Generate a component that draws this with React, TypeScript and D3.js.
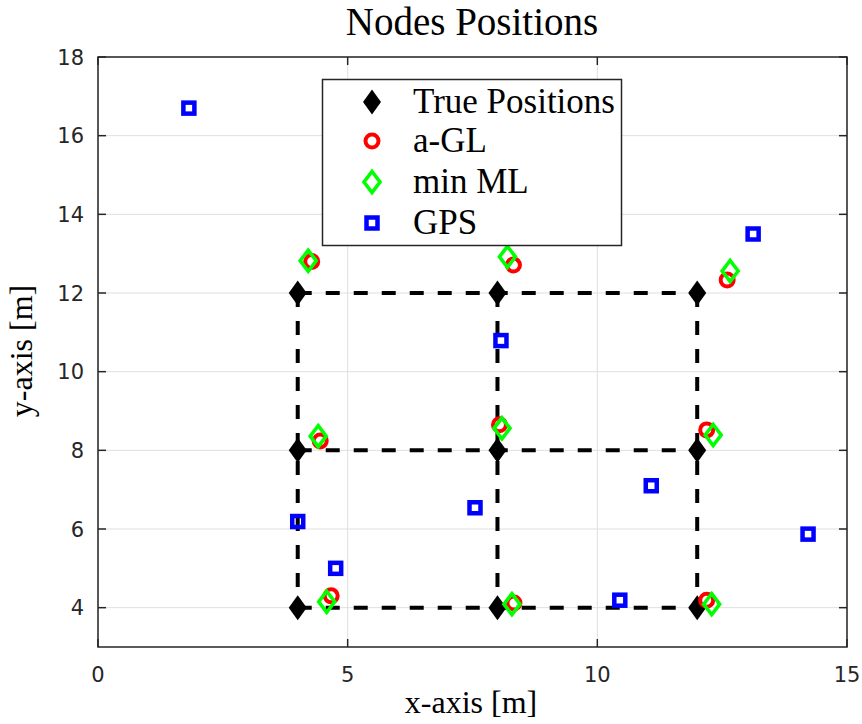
import React from "react";
import * as d3 from "d3";

// True node positions on a 3x3 grid
const trueX = [4, 8, 12, 4, 8, 12, 4, 8, 12];
const trueY = [4, 4, 4, 8, 8, 8, 12, 12, 12];

// a-GL estimates
const aglX = [4.67, 8.33, 12.19, 4.45, 8.04, 12.19, 4.28, 8.32, 12.6];
const aglY = [4.3, 4.12, 4.19, 8.24, 8.65, 8.52, 12.8, 12.71, 12.33];

// min ML estimates
const mlX = [4.58, 8.29, 12.29, 4.41, 8.09, 12.32, 4.21, 8.2, 12.66];
const mlY = [4.15, 4.09, 4.09, 8.36, 8.56, 8.39, 12.82, 12.92, 12.56];

// GPS fixes
const gpsX = [1.82, 13.12, 8.07, 4.0, 4.76, 7.55, 11.08, 10.45, 14.22];
const gpsY = [16.7, 13.5, 10.79, 6.19, 5.0, 6.54, 7.1, 4.19, 5.87];

const xTicks = [0, 5, 10, 15];
const yTicks = [4, 6, 8, 10, 12, 14, 16, 18];
const legendLabels = ["True Positions", "a-GL", "min ML", "GPS"];

const W = 862;
const H = 724;
const axisColor = "#262626";
const serif = "'Liberation Serif', 'Times New Roman', serif";
const sans = "'DejaVu Sans', sans-serif";

const blackDiamond = "M0,-12.5L9,0L0,12.5L-9,0Z";
const greenDiamond = "M0,-10.5L8,0L0,10.5L-8,0Z";

type MarkerKind = "true" | "agl" | "ml" | "gps";

function Marker({ kind, x, y }: { kind: MarkerKind; x: number; y: number }) {
  if (kind === "true")
    return <path d={blackDiamond} transform={`translate(${x},${y})`} fill="#000" />;
  if (kind === "agl")
    return <circle cx={x} cy={y} r={6.5} fill="none" stroke="#ff0000" strokeWidth={4} />;
  if (kind === "ml")
    return (
      <path
        d={greenDiamond}
        transform={`translate(${x},${y})`}
        fill="none"
        stroke="#00ff00"
        strokeWidth={3.6}
        strokeLinejoin="miter"
      />
    );
  return (
    <rect x={x - 5.5} y={y - 5.5} width={11} height={11} fill="none" stroke="#0000ff" strokeWidth={4.5} />
  );
}

export default function App() {
  const x = d3.scaleLinear().domain([0, 15]).range([98, 847]);
  const y = d3.scaleLinear().domain([3, 18]).range([647, 57]);
  const [x0, x1] = x.range();
  const [y0, y1] = y.range();

  // Dashed grid connecting true positions: one segment per row and column
  const rows = Array.from(new Set(trueY));
  const cols = Array.from(new Set(trueX));
  const segs: [number, number, number, number][] = [];
  rows.forEach((ry) => {
    const xs = trueX.filter((_, i) => trueY[i] === ry);
    segs.push([d3.min(xs)!, ry, d3.max(xs)!, ry]);
  });
  cols.forEach((cx) => {
    const ys = trueY.filter((_, i) => trueX[i] === cx);
    segs.push([cx, d3.max(ys)!, cx, d3.min(ys)!]);
  });

  const series: { kind: MarkerKind; xs: number[]; ys: number[] }[] = [
    { kind: "true", xs: trueX, ys: trueY },
    { kind: "agl", xs: aglX, ys: aglY },
    { kind: "ml", xs: mlX, ys: mlY },
    { kind: "gps", xs: gpsX, ys: gpsY },
  ];
  const legendKinds: MarkerKind[] = ["true", "agl", "ml", "gps"];
  const legendRows = [102, 141, 182, 223];

  return (
    <svg
      width={W}
      height={H}
      style={{ position: "absolute", left: 0, top: 0, background: "#fff" }}
    >
      <rect x={0} y={0} width={W} height={H} fill="#fff" />

      {/* grid */}
      {xTicks.map((t) => (
        <line key={`gx${t}`} x1={x(t)} x2={x(t)} y1={y1} y2={y0} stroke="#dfdfdf" strokeWidth={1} />
      ))}
      {yTicks.map((t) => (
        <line key={`gy${t}`} x1={x0} x2={x1} y1={y(t)} y2={y(t)} stroke="#dfdfdf" strokeWidth={1} />
      ))}

      {/* dashed layout lines */}
      {segs.map((s, i) => (
        <line
          key={`s${i}`}
          x1={x(s[0])}
          y1={y(s[1])}
          x2={x(s[2])}
          y2={y(s[3])}
          stroke="#000"
          strokeWidth={4}
          strokeDasharray="14,14"
        />
      ))}

      {/* markers */}
      {series.map((s) =>
        s.xs.map((v, i) => <Marker key={`${s.kind}${i}`} kind={s.kind} x={x(v)} y={y(s.ys[i])} />)
      )}

      {/* axes box and ticks */}
      <rect x={x0} y={y1} width={x1 - x0} height={y0 - y1} fill="none" stroke={axisColor} strokeWidth={1.5} />
      {xTicks.map((t) => (
        <g key={`tx${t}`}>
          <line x1={x(t)} x2={x(t)} y1={y0} y2={y0 - 8} stroke={axisColor} strokeWidth={1.5} />
          <line x1={x(t)} x2={x(t)} y1={y1} y2={y1 + 8} stroke={axisColor} strokeWidth={1.5} />
          <text x={x(t)} y={682} textAnchor="middle" fontFamily={sans} fontSize={21} fill={axisColor}>
            {t}
          </text>
        </g>
      ))}
      {yTicks.map((t) => (
        <g key={`ty${t}`}>
          <line x1={x0} x2={x0 + 8} y1={y(t)} y2={y(t)} stroke={axisColor} strokeWidth={1.5} />
          <line x1={x1} x2={x1 - 8} y1={y(t)} y2={y(t)} stroke={axisColor} strokeWidth={1.5} />
          <text
            x={84}
            y={y(t)}
            dy="0.36em"
            textAnchor="end"
            fontFamily={sans}
            fontSize={21}
            fill={axisColor}
          >
            {t}
          </text>
        </g>
      ))}

      {/* legend */}
      <rect x={322.5} y={79.5} width={299} height={166} fill="#fff" stroke={axisColor} strokeWidth={1.5} />
      {legendKinds.map((k, i) => (
        <g key={`lg${k}`}>
          <Marker kind={k} x={372} y={legendRows[i]} />
          <text x={413} y={legendRows[i] + 11} fontFamily={serif} fontSize={35} fill="#000">
            {legendLabels[i]}
          </text>
        </g>
      ))}

      {/* titles */}
      <text x={472} y={35} textAnchor="middle" fontFamily={serif} fontSize={39} fill="#000">
        Nodes Positions
      </text>
      <text x={471} y={713} textAnchor="middle" fontFamily={serif} fontSize={32} fill="#000">
        x-axis [m]
      </text>
      <text
        transform={`translate(32,351) rotate(-90)`}
        textAnchor="middle"
        fontFamily={serif}
        fontSize={32}
        fill="#000"
      >
        y-axis [m]
      </text>
    </svg>
  );
}
